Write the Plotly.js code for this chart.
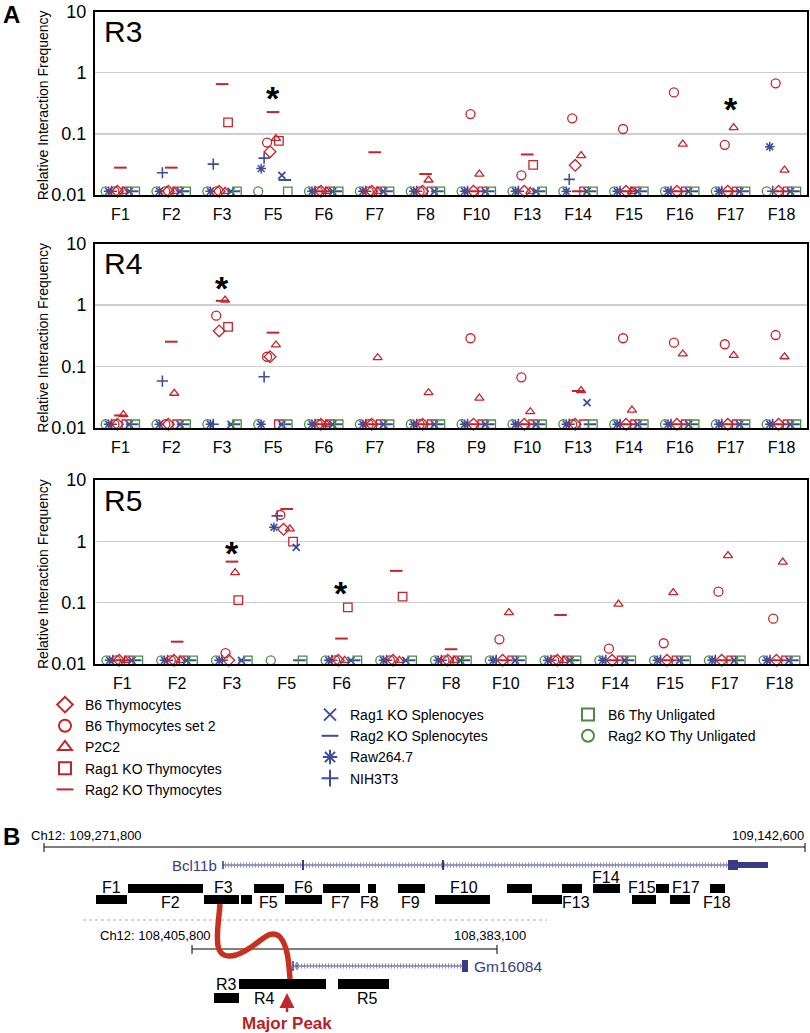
<!DOCTYPE html>
<html><head><meta charset="utf-8">
<script src="https://cdn.plot.ly/plotly-3.0.1.min.js"></script>
<style>body{margin:0;background:#fff}#chart{width:810px;height:1033px}</style>
</head><body><div id="chart"></div><script>
// ---------------- DATA ----------------
const B = 0.0115; // below detection: plotted at the baseline
const seriesNames = ['B6 Thymocytes','B6 Thymocytes set 2','P2C2','Rag1 KO Thymocytes','Rag2 KO Thymocytes',
  'Rag1 KO Splenocyes','Rag2 KO Splenocytes','Raw264.7','NIH3T3','B6 Thy Unligated','Rag2 KO Thy Unligated'];

const catsR3 = ['F1','F2','F3','F5','F6','F7','F8','F10','F13','F14','F15','F16','F17','F18'];
const catsR4 = ['F1','F2','F3','F5','F6','F7','F8','F9','F10','F13','F14','F16','F17','F18'];
const catsR5 = ['F1','F2','F3','F5','F6','F7','F8','F10','F13','F14','F15','F17','F18'];

// R3 values (order of catsR3)
const r3_b6      = [B,B,B,0.051,B,B,B,B,B,0.0306,B,B,B,B];
const r3_b6set2  = [B,B,B,0.072,B,B,B,0.21,0.021,0.179,0.12,0.476,0.066,0.67];
const r3_p2c2    = [B,B,B,0.084,B,B,0.0176,0.022,B,0.044,B,0.068,0.126,0.0256];
const r3_rag1thy = [B,B,0.154,0.077,B,B,B,B,0.031,B,B,B,B,B];
const r3_rag2thy = [0.028,0.028,0.65,0.227,B,0.050,0.022,B,0.046,B,B,B,B,B];
const r3_rag1spl = [B,B,B,0.021,B,B,B,B,B,B,B,B,B,B];
const r3_rag2spl = [B,B,B,0.0176,B,B,B,B,B,B,B,B,B,B];
const r3_raw     = [B,B,B,0.027,B,B,B,B,B,B,B,B,B,0.0615];
const r3_nih     = [B,0.0231,0.032,0.040,B,B,B,B,B,0.018,B,B,B,B];
const r3_b6unl   = [B,B,B,B,B,B,B,B,B,B,B,B,B,B];
const r3_rag2unl = [B,B,B,B,B,B,B,B,B,B,B,B,B,B];

// R4 values (order of catsR4)
const r4_b6      = [B,B,0.378,0.144,B,B,B,B,B,B,B,B,B,B];
const r4_b6set2  = [B,B,0.67,0.144,B,B,B,0.288,0.0667,B,0.288,0.244,0.23,0.325];
const r4_p2c2    = [0.0165,0.0367,1.2,0.224,B,0.139,0.0375,0.0307,0.0184,0.0405,0.0196,0.16,0.152,0.144];
const r4_rag1thy = [B,B,0.44,B,B,B,B,B,B,B,B,B,B,B];
const r4_rag2thy = [0.016,0.253,1.17,0.355,B,B,B,B,B,0.04,B,B,B,B];
const r4_rag1spl = [B,B,B,B,B,B,B,B,B,0.0258,B,B,B,B];
const r4_rag2spl = [B,B,B,B,B,B,B,B,B,B,B,B,B,B];
const r4_raw     = [B,B,B,B,B,B,B,B,B,B,B,B,B,B];
const r4_nih     = [B,0.058,B,0.068,B,B,B,B,B,B,B,B,B,B];
const r4_b6unl   = [B,B,B,B,B,B,B,B,B,B,B,B,B,B];
const r4_rag2unl = [B,B,B,B,B,B,B,B,B,B,B,B,B,B];

// R5 values (order of catsR5)
const r5_b6      = [B,B,B,1.57,B,B,B,B,B,B,B,B,B];
const r5_b6set2  = [B,B,0.015,2.69,B,B,B,0.0253,B,0.0178,0.0218,0.151,0.0548];
const r5_p2c2    = [B,B,0.309,1.6,B,B,B,0.069,B,0.095,0.146,0.585,0.457];
const r5_rag1thy = [B,B,0.11,0.99,0.084,0.125,B,B,B,B,B,B,B];
const r5_rag2thy = [B,0.0231,0.467,3.37,0.026,0.33,0.0174,B,0.063,B,B,B,B];
const r5_rag1spl = [B,B,B,0.8,B,B,B,B,B,B,B,B,B];
const r5_rag2spl = [B,B,B,B,B,B,B,B,B,B,B,B,B];
const r5_raw     = [B,B,B,1.70,B,B,B,B,B,B,B,B,B];
const r5_nih     = [B,B,B,2.6,B,B,B,B,B,B,B,B,B];
const r5_b6unl   = [B,B,B,B,B,B,B,B,B,B,B,B,B];
const r5_rag2unl = [B,B,B,B,B,B,B,B,B,B,B,B,B];

const panelNames = ['R3','R4','R5'];
// significance asterisks: [panel index, category, level]
const starCats   = [[0,'F5',0.43],[0,'F17',0.284],[1,'F3',2.11],[2,'F3',0.72],[2,'F6',0.161]];

// Bcl11b fragments (panel B labels)
const fragLabelsTop = ['F1','F3','F6','F10','F14','F15','F17'];
const fragLabelsBot = ['F2','F5','F7','F8','F9','F13','F18'];
const regionLabels  = ['R3','R4','R5'];

// ---------------- STYLE / LAYOUT ----------------
const W = 810, H = 1033;
const FONT = 'Liberation Sans, Arial, Helvetica, sans-serif';
const RED = '#c1262d', BLUE = '#3d4d9e', GREEN = '#4a8b41', GENE = '#3a3a86';
const px = x => x / W, py = y => 1 - y / H;
const P = (x, y) => px(x).toFixed(5) + ',' + py(y).toFixed(5);

const seriesStyle = [
  {sym:'diamond-open', c:RED, s:9, lw:1.3, leg:'legend'},
  {sym:'circle-open', c:RED, s:9, lw:1.3, leg:'legend'},
  {sym:'triangle-up-open', c:RED, s:8, lw:1.3, leg:'legend'},
  {sym:'square-open', c:RED, s:8.5, lw:1.3, leg:'legend'},
  {sym:'line-ew-open', c:RED, s:9, lw:2, leg:'legend'},
  {sym:'x-thin-open', c:BLUE, s:7, lw:1.8, leg:'legend2'},
  {sym:'line-ew-open', c:BLUE, s:9, lw:2, leg:'legend2'},
  {sym:'asterisk-open', c:BLUE, s:8, lw:1.5, leg:'legend2'},
  {sym:'cross-thin-open', c:BLUE, s:8, lw:1.6, leg:'legend2'},
  {sym:'square-open', c:GREEN, s:8.5, lw:1.3, leg:'legend3'},
  {sym:'circle-open', c:GREEN, s:9, lw:1.3, leg:'legend3'}
];
// left-to-right slot order within each category cluster
const slotOrder = [10, 7, 8, 1, 0, 4, 2, 3, 5, 6, 9];

const panelCats = [catsR3, catsR4, catsR5];
const panelVals = [
  [r3_b6,r3_b6set2,r3_p2c2,r3_rag1thy,r3_rag2thy,r3_rag1spl,r3_rag2spl,r3_raw,r3_nih,r3_b6unl,r3_rag2unl],
  [r4_b6,r4_b6set2,r4_p2c2,r4_rag1thy,r4_rag2thy,r4_rag1spl,r4_rag2spl,r4_raw,r4_nih,r4_b6unl,r4_rag2unl],
  [r5_b6,r5_b6set2,r5_p2c2,r5_rag1thy,r5_rag2thy,r5_rag1spl,r5_rag2spl,r5_raw,r5_nih,r5_b6unl,r5_rag2unl]
];
// pixel boxes of the three plots: [top, bottom]
const plotY = [[11.5,195],[243.5,428],[480,664]];
const plotX = [95, 807];

const traces = [];
panelCats.forEach((cats, p) => {
  const ax = p === 0 ? '' : String(p + 1);
  slotOrder.forEach(i => {
    const st = seriesStyle[i];
    traces.push({
      type:'scatter', mode:'markers', x:cats, y:panelVals[p][i],
      xaxis:'x'+ax, yaxis:'y'+ax, name:seriesNames[i], legendgroup:'s'+i,
      legend:st.leg, legendrank:i, showlegend:p===0, cliponaxis:false,
      marker:{symbol:st.sym, color:st.c, size:st.s, line:{color:st.c, width:st.lw}},
      hoverinfo:'x+y+name'
    });
  });
});

const legendBase = {xanchor:'left', yanchor:'top', bgcolor:'rgba(0,0,0,0)',
  font:{size:14, family:FONT, color:'#000'}, itemsizing:'constant', tracegroupgap:0};
const layout = {
  width:W, height:H, margin:{l:0,r:0,t:0,b:0},
  paper_bgcolor:'#fff', plot_bgcolor:'rgba(0,0,0,0)',
  font:{family:FONT, color:'#000'},
  scattermode:'group', scattergap:0.36,
  showlegend:true,
  legend: Object.assign({x:px(45), y:py(689)}, legendBase),
  legend2:Object.assign({x:px(310), y:py(699)}, legendBase),
  legend3:Object.assign({x:px(568), y:py(699)}, legendBase, {tracegroupgap:0}),
  annotations:[], shapes:[]
};

panelCats.forEach((cats, p) => {
  const ax = p === 0 ? '' : String(p + 1);
  layout['xaxis'+ax] = {
    domain:[px(plotX[0]), px(plotX[1])], anchor:'y'+ax, type:'category',
    categoryorder:'array', categoryarray:cats, showgrid:false, zeroline:false,
    showline:true, mirror:true, linecolor:'#000', linewidth:2, ticks:'',
    tickfont:{size:16, family:FONT, color:'#000'}, ticklabelstandoff:4, fixedrange:true
  };
  layout['yaxis'+ax] = {
    domain:[py(plotY[p][1]), py(plotY[p][0])], anchor:'x'+ax, type:'log', range:[-2, 1],
    tickvals:[0.01,0.1,1,10], ticktext:['0.01','0.1','1','10'],
    showgrid:true, gridcolor:'#cfcfcf', gridwidth:1.5, zeroline:false,
    showline:true, mirror:true, linecolor:'#000', linewidth:2, ticks:'',
    tickfont:{size:18, family:FONT, color:'#000'}, ticklabelstandoff:3, fixedrange:true
  };
  // panel name
  layout.annotations.push({xref:'paper', yref:'paper', x:px(102), y:py(plotY[p][0]+20),
    xanchor:'left', yanchor:'middle', text:panelNames[p], showarrow:false,
    font:{size:30, family:FONT, color:'#000'}});
  // y-axis title
  layout.annotations.push({xref:'paper', yref:'paper', x:px(43), y:py((plotY[p][0]+plotY[p][1])/2 + 2),
    xanchor:'center', yanchor:'middle', textangle:-90, text:'Relative Interaction Frequency',
    showarrow:false, font:{size:14, family:FONT, color:'#000'}});
});

starCats.forEach(([p, cat, v]) => {
  const ax = p === 0 ? '' : String(p + 1);
  layout.annotations.push({xref:'x'+ax, yref:'y'+ax, x:cat, y:Math.log10(v), text:'*',
    showarrow:false, yshift:-3, font:{size:34, family:FONT, color:'#000', weight:'bold'}});
});

// panel letters
layout.annotations.push({xref:'paper', yref:'paper', x:px(1), y:py(15), xanchor:'left', yanchor:'middle',
  text:'<b>A</b>', showarrow:false, font:{size:24, family:FONT, color:'#000'}});
layout.annotations.push({xref:'paper', yref:'paper', x:px(1), y:py(836), xanchor:'left', yanchor:'middle',
  text:'<b>B</b>', showarrow:false, font:{size:24, family:FONT, color:'#000'}});

// ---------------- PANEL B DIAGRAM ----------------
const txt = (t, x, y, size, color, anchor, bold) => layout.annotations.push({
  xref:'paper', yref:'paper', x:px(x), y:py(y), xanchor:anchor || 'center', yanchor:'middle',
  text: bold ? '<b>'+t+'</b>' : t, showarrow:false, font:{size:size, family:FONT, color:color || '#000'}});
const line = (x0, y0, x1, y1, color, width, dash) => layout.shapes.push({type:'line', xref:'paper', yref:'paper',
  x0:px(x0), y0:py(y0), x1:px(x1), y1:py(y1), line:{color:color, width:width, dash:dash || 'solid'}});
const rect = (x0, y0, x1, y1, color) => layout.shapes.push({type:'rect', xref:'paper', yref:'paper',
  x0:px(x0), y0:py(y0), x1:px(x1), y1:py(y1), fillcolor:color, line:{width:0}});

// genomic ruler 1
txt('Ch12: 109,271,800', 29, 835, 13, '#000', 'left');
txt('109,142,600', 806, 835, 13, '#000', 'right');
line(44, 847, 805, 847, '#000', 1);
line(44, 843, 44, 852, '#000', 1);
line(805, 843, 805, 852, '#000', 1);
// Bcl11b gene
txt('Bcl11b', 219, 865, 15, GENE, 'right');
line(223, 865, 728, 865, GENE, 1);
line(225, 865, 728, 865, '#8b8bbd', 5, '1px,2px');
line(223, 861, 223, 869, GENE, 1.5);
line(303, 860, 303, 870, GENE, 2);
line(443, 860, 443, 870, GENE, 2);
rect(728, 860, 738, 870, GENE);
rect(738, 862, 768, 868, GENE);
// fragments
const fragTop = [[128,203],[254,284],[323,360],[368,376],[398,425],[507,532],[562,582],[593,620],[656,669],[710,725]];
const fragBot = [[96,127],[204,239],[241,252],[285,322],[435,490],[532,562],[632,656],[670,690]];
fragTop.forEach(([a,b]) => rect(a, 884, b, 893, '#000'));
fragBot.forEach(([a,b]) => rect(a, 895, b, 904, '#000'));
const fragTopPos = [[111,887],[223,887],[303,887],[464,887],[606,877],[642,887],[686,887]];
const fragBotPos = [[170,902],[268,902],[340,902],[369,902],[410,902],[576,902],[717,902]];
fragLabelsTop.forEach((t,i) => txt(t, fragTopPos[i][0], fragTopPos[i][1], 16));
fragLabelsBot.forEach((t,i) => txt(t, fragBotPos[i][0], fragBotPos[i][1], 16));
// separator
line(83, 920, 547, 920, '#b9ae8c', 1, 'dot');
// genomic ruler 2
txt('Ch12: 108,405,800', 98, 935, 13, '#000', 'left');
txt('108,383,100', 528, 935, 13, '#000', 'right');
line(192, 949, 497, 949, '#000', 1);
line(192, 945, 192, 954, '#000', 1);
line(497, 945, 497, 954, '#000', 1);
// Gm16084 gene
line(293, 966, 462, 966, GENE, 1);
line(295, 966, 462, 966, '#8b8bbd', 5, '1px,2px');
line(293, 961, 293, 971, GENE, 1.5);
line(297, 962, 297, 970, GENE, 1);
rect(462, 960, 468, 972, GENE);
txt('Gm16084', 472, 966, 15.5, GENE, 'left');
// regions
rect(239, 979, 326, 989, '#000');
rect(338, 979, 389, 989, '#000');
rect(214, 993, 239, 1003, '#000');
const regionPos = [[226,984],[264,998],[367,998]];
regionLabels.forEach((t,i) => txt(t, regionPos[i][0], regionPos[i][1], 16));
// interaction curve
layout.shapes.push({type:'path', xref:'paper', yref:'paper', layer:'above',
  path:'M'+P(220,904)+' C'+P(218,932)+' '+P(210,962)+' '+P(236,955)+' C'+P(258,948)+' '+P(268,926)+' '+P(280,937)+' C'+P(288,946)+' '+P(289,965)+' '+P(290,979),
  line:{color:'#c8311f', width:5.5}});
// major peak arrow
layout.annotations.push({xref:'paper', yref:'paper', x:px(287), y:py(993), ax:0, ay:30, axref:'pixel', ayref:'pixel',
  text:'<b>Major Peak</b>', showarrow:true, arrowhead:2, arrowsize:1.2, arrowwidth:2.5, arrowcolor:'#c0282d',
  font:{size:17, family:FONT, color:'#b8202a'}});

Plotly.newPlot('chart', traces, layout, {staticPlot:true, displayModeBar:false});
</script></body></html>
